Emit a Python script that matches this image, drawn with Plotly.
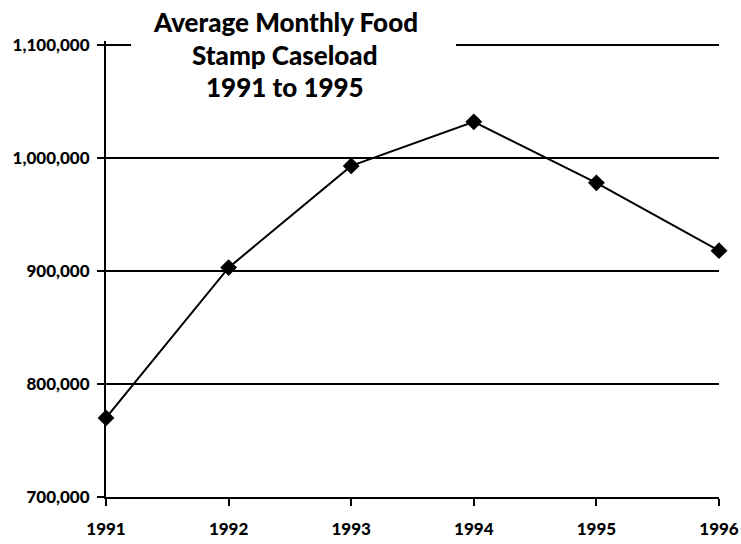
import plotly.graph_objects as go

years = [1991, 1992, 1993, 1994, 1995, 1996]
caseload = [770000, 903000, 993000, 1032000, 978000, 918000]
y_ticks = [700000, 800000, 900000, 1000000, 1100000]
y_tick_labels = ["700,000", "800,000", "900,000", "1,000,000", "1,100,000"]
x_tick_labels = ["1991", "1992", "1993", "1994", "1995", "1996"]
title_lines = ["Average Monthly Food", "Stamp Caseload", "1991 to 1995"]

FONT = "Lato, 'Open Sans', sans-serif"

W, H = 741, 544
AX_LEFT, AX_RIGHT, PLOT_TOP, AX_BOTTOM = 106, 719, 41, 497
L, R, T, B = AX_LEFT, W - AX_RIGHT, PLOT_TOP, H - AX_BOTTOM
pw, ph = AX_RIGHT - AX_LEFT, AX_BOTTOM - PLOT_TOP
Y_TOP = 1103540  # slightly above 1,100,000 so the top gridline is drawn

fig = go.Figure()
fig.add_trace(go.Scatter(
    x=years, y=caseload, mode="lines+markers",
    line=dict(color="black", width=2),
    marker=dict(symbol="diamond", size=13, color="black"),
    cliponaxis=False, showlegend=False,
))

def px_to_paper_x(px):
    return (px - AX_LEFT) / pw

def px_to_paper_y(py):
    return (AX_BOTTOM - py) / ph

# white box behind title blanks the top gridline
fig.add_shape(type="rect", xref="paper", yref="paper",
              x0=px_to_paper_x(131), x1=px_to_paper_x(456),
              y0=px_to_paper_y(112), y1=px_to_paper_y(0),
              fillcolor="white", line=dict(width=0), layer="above")

for line, py in zip(title_lines, [22, 55, 87]):
    fig.add_annotation(text=line, xref="paper", yref="paper",
                       x=px_to_paper_x(285), y=px_to_paper_y(py),
                       xanchor="center", yanchor="middle", showarrow=False,
                       font=dict(family=FONT, size=26, color="black", weight=900))

fig.update_layout(
    width=W, height=H,
    margin=dict(l=L, r=R, t=T, b=B, pad=0),
    plot_bgcolor="white", paper_bgcolor="white",
    font=dict(family=FONT, color="black"),
)
fig.update_xaxes(
    range=[1991, 1996], tickvals=years, ticktext=x_tick_labels,
    showgrid=False, zeroline=False, showline=True, linecolor="black", linewidth=2,
    ticks="outside", ticklen=7, tickwidth=2, tickcolor="black", automargin=False,
    tickfont=dict(family=FONT, size=17, color="black", weight=900), ticklabelstandoff=9,
)
fig.update_yaxes(
    range=[700000, Y_TOP], tickvals=y_ticks, ticktext=y_tick_labels,
    showgrid=True, gridcolor="black", gridwidth=2, zeroline=False,
    showline=True, linecolor="black", linewidth=2, automargin=False,
    ticks="outside", ticklen=7, tickwidth=2, tickcolor="black",
    tickfont=dict(family=FONT, size=17, color="black", weight=900), ticklabelstandoff=4,
)

fig.write_html(
    "out.html",
    config={"displayModeBar": False},
    post_script="document.body.style.margin='0';document.body.style.overflow='hidden';",
)
